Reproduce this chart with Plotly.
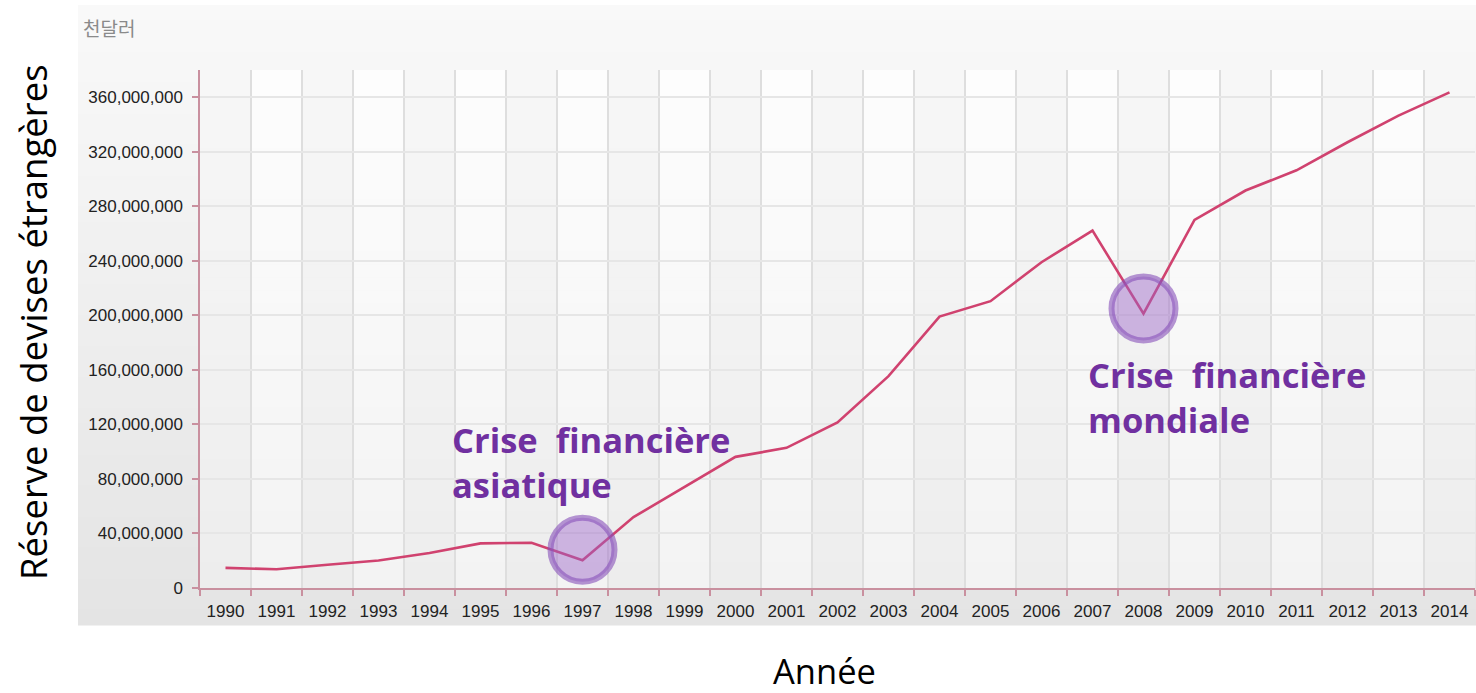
import plotly.graph_objects as go

# Data (thousand US dollars)
years = list(range(1990, 2015))
reserves = [14.8e6, 13.7e6, 17.1e6, 20.2e6, 25.7e6, 32.7e6, 33.2e6, 20.4e6, 52.0e6, 74.1e6,
            96.2e6, 102.8e6, 121.4e6, 155.4e6, 199.1e6, 210.4e6, 239.0e6, 262.2e6, 201.2e6,
            270.0e6, 291.6e6, 306.4e6, 327.0e6, 346.5e6, 363.6e6]
y_ticks = list(range(0, 360_000_001, 40_000_000))
crisis_years = [1997, 2008]
crisis_marker_y = [28e6, 205e6]
crisis_labels = ["Crise\u00a0 financière<br>asiatique", "Crise\u00a0 financière<br>mondiale"]

W, H = 1476, 693
L, R, T, B = 200, 1, 70, 105
pw, ph = W - L - R, H - T - B

def px2paper_x(px):
    return (px - L) / pw

def px2paper_y(py):
    return (H - B - py) / ph

def lerp_color(c1, c2, t):
    return "rgb(%d,%d,%d)" % tuple(round(a + (b - a) * t) for a, b in zip(c1, c2))

shapes = []
# outer panel gradient
n = 40
top, bot = 5, 625
for i in range(n):
    y0 = top + (bot - top) * i / n
    y1 = top + (bot - top) * (i + 1) / n + 0.6
    shapes.append(dict(type="rect", xref="paper", yref="paper", layer="below",
                       x0=px2paper_x(78), x1=px2paper_x(1476),
                       y0=px2paper_y(y1), y1=px2paper_y(y0),
                       fillcolor=lerp_color((249, 249, 249), (228, 228, 228), i / (n - 1)),
                       line=dict(width=0)))
# plot area gradient
for i in range(n):
    y0 = T + ph * i / n
    y1 = T + ph * (i + 1) / n + 0.6
    shapes.append(dict(type="rect", xref="paper", yref="paper", layer="below",
                       x0=0, x1=1, y0=px2paper_y(min(y1, T + ph)), y1=px2paper_y(y0),
                       fillcolor=lerp_color((253, 253, 253), (243, 243, 243), i / (n - 1)),
                       line=dict(width=0)))
# alternating column shading
for yr in years:
    if yr % 2 == 0:
        shapes.append(dict(type="rect", xref="x", yref="paper", layer="below",
                           x0=yr - 0.5, x1=yr + 0.5, y0=0, y1=1,
                           fillcolor="rgba(0,0,0,0.025)", line=dict(width=0)))
# crisis circles
for cx, cy in zip(crisis_years, crisis_marker_y):
    shapes.append(dict(type="circle", xref="x", yref="y", layer="above",
                       xsizemode="pixel", ysizemode="pixel", xanchor=cx, yanchor=cy,
                       x0=-32, x1=32, y0=-32, y1=32,
                       fillcolor="rgba(155,100,200,0.45)",
                       line=dict(color="rgba(135,80,185,0.6)", width=6)))

fig = go.Figure()
fig.add_trace(go.Scatter(x=years, y=reserves, mode="lines",
                         line=dict(color="#d0426f", width=2.6), hoverinfo="x+y"))

annotations = [
    dict(text="천달러", xref="paper", yref="paper", x=px2paper_x(81), y=px2paper_y(27),
         xanchor="left", yanchor="middle", showarrow=False,
         font=dict(family="Noto Sans CJK KR", size=19, color="#8a8a8a")),
    dict(text="Réserve de devises étrangères", xref="paper", yref="paper",
         x=px2paper_x(33), y=px2paper_y(322), xanchor="center", yanchor="middle",
         textangle=-90, showarrow=False,
         font=dict(family="Open Sans", size=36.5, color="#000000")),
    dict(text="Année", xref="paper", yref="paper",
         x=px2paper_x(824), y=px2paper_y(670), xanchor="center", yanchor="middle",
         showarrow=False, borderpad=0,
         font=dict(family="Open Sans", size=34.5, color="#000000")),
]
for (lx, ly), txt in zip([(450, 462), (1086, 397)], crisis_labels):
    annotations.append(dict(text=txt, xref="paper", yref="paper",
                            x=px2paper_x(lx), y=px2paper_y(ly), xanchor="left", yanchor="middle",
                            align="left", showarrow=False,
                            font=dict(family="Open Sans", size=34.5, color="#7030a0", weight="bold")))

fig.update_layout(
    width=W, height=H, margin=dict(l=L, r=R, t=T, b=B),
    paper_bgcolor="white", plot_bgcolor="rgba(0,0,0,0)",
    showlegend=False, shapes=shapes, annotations=annotations,
    xaxis=dict(range=[1989.5, 2014.5], tickvals=years, ticktext=[str(y) for y in years],
               ticks="outside", ticklen=7, tickcolor="rgba(0,0,0,0)",
               showgrid=False, zeroline=False, showline=True, linecolor="#c9909f", linewidth=1.5,
               tickfont=dict(family="Liberation Sans", size=17, color="#222222"),
               minor=dict(tickvals=[y + 0.5 for y in range(1989, 2015)], ticks="outside",
                          ticklen=6, tickcolor="#c9909f", tickwidth=1.5,
                          showgrid=True, gridcolor="#dedede", gridwidth=1.5),
               fixedrange=True),
    yaxis=dict(range=[0, 380_000_000], tickvals=y_ticks, tickformat=",d",
               ticks="outside", ticklen=6, tickcolor="#c9909f", tickwidth=1.5,
               ticklabelstandoff=6,
               showgrid=True, gridcolor="#e6e6e6", gridwidth=1.5, zeroline=False,
               showline=True, linecolor="#c9909f", linewidth=1.5,
               tickfont=dict(family="Liberation Sans", size=17, color="#222222"),
               fixedrange=True),
)

fig.write_html("out.html", config={"displayModeBar": False},
               post_script="document.body.style.margin='0';document.body.style.overflow='hidden';")
